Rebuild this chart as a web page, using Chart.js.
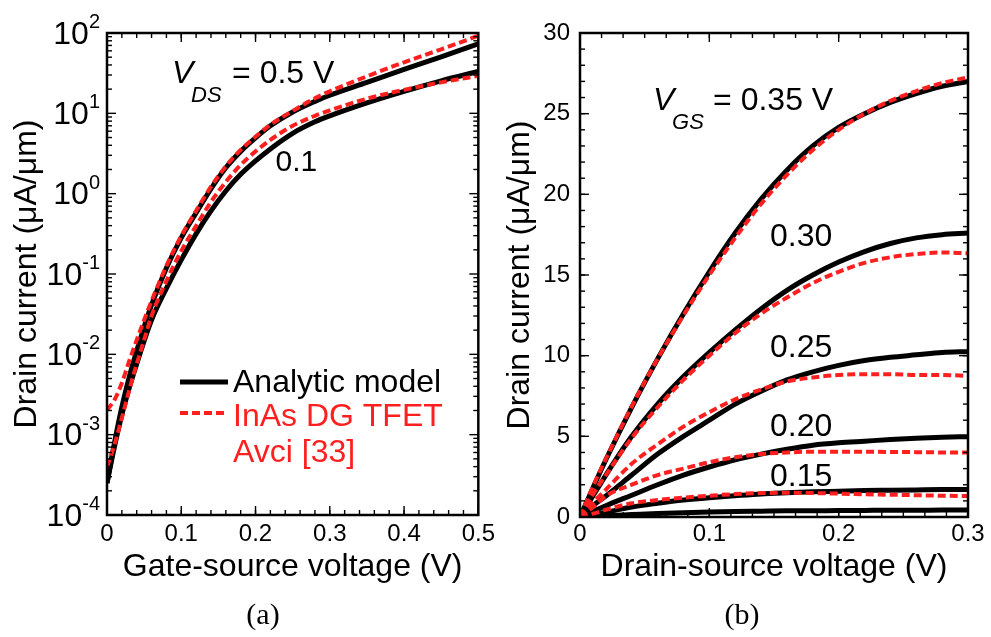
<!DOCTYPE html>
<html>
<head>
<meta charset="utf-8">
<script src="https://cdn.jsdelivr.net/npm/chart.js@4.4.1/dist/chart.umd.min.js"></script>
<style>
  html, body { margin: 0; padding: 0; background: #fff; }
  #wrap { position: relative; width: 991px; height: 637px; overflow: hidden; }
  #boxA { position: absolute; left: 0; top: 0; width: 500px; height: 637px; }
  #boxB { position: absolute; left: 500px; top: 0; width: 491px; height: 637px; }
  .cap { position: absolute; font-family: "Liberation Serif", "Times New Roman", serif; font-size: 30px; color: #000; transform: translateX(-50%); }
</style>
</head>
<body>
<div id="wrap">
  <div id="boxA"><canvas id="chartA"></canvas></div>
  <div id="boxB"><canvas id="chartB"></canvas></div>
  <div class="cap" style="left:263px; top:597px;">(a)</div>
  <div class="cap" style="left:742px; top:597px;">(b)</div>
</div>
<script>
/* --------------- Data (a): transfer curves, log scale --------------------- */
const vgsA = [0, 0.01, 0.02, 0.03, 0.04, 0.05, 0.06, 0.08, 0.10, 0.12, 0.14, 0.16, 0.18, 0.20, 0.22, 0.25, 0.28, 0.30, 0.35, 0.40, 0.45, 0.50];
const modelVds05 = [2.5e-4, 7.9e-4, 2.21e-3, 5.23e-3, 0.011, 0.0219, 0.0412, 0.119, 0.282, 0.577, 1.15, 2.1, 3.36, 4.95, 6.99, 10.4, 14.1, 16.8, 24.3, 35.3, 50.5, 73.4];
const modelVds01 = [2.5e-4, 7.03e-4, 1.76e-3, 3.82e-3, 7.59e-3, 0.0147, 0.0268, 0.0662, 0.15, 0.316, 0.611, 1.08, 1.74, 2.56, 3.61, 5.64, 7.84, 9.31, 13.5, 18.8, 25.4, 33.2];
const tfetVds05 = [2.03e-3, 2.7e-3, 4.4e-3, 8.28e-3, 0.0151, 0.0268, 0.0462, 0.126, 0.298, 0.611, 1.22, 2.19, 3.51, 5.1, 7.19, 10.7, 15.4, 18.8, 28.9, 43.2, 62.7, 92.3];
const tfetVds01 = [3.96e-4, 7.44e-4, 1.61e-3, 3.6e-3, 7.59e-3, 0.0151, 0.0301, 0.082, 0.194, 0.397, 0.791, 1.4, 2.28, 3.36, 4.68, 6.99, 9.31, 10.9, 15.2, 19.6, 24.3, 29.3];

/* --------------- Data (b): output curves --------------------- */
const vdsB = [0, 0.01, 0.02, 0.04, 0.06, 0.08, 0.10, 0.12, 0.14, 0.16, 0.18, 0.20, 0.22, 0.24, 0.26, 0.28, 0.30];
const model035 = [0, 1.8, 3.55, 6.8, 9.8, 12.6, 15.2, 17.6, 19.7, 21.5, 23.0, 24.15, 25.0, 25.7, 26.25, 26.7, 27.0];
const model030 = [0, 1.3, 2.6, 5.0, 7.0, 8.7, 10.2, 11.6, 12.9, 14.05, 15.0, 15.8, 16.45, 16.95, 17.3, 17.5, 17.6];
const model025 = [0, 0.7, 1.3, 2.6, 3.9, 5.0, 6.0, 7.0, 7.8, 8.5, 9.0, 9.4, 9.7, 9.9, 10.05, 10.2, 10.25];
const model020 = [0, 0.35, 0.7, 1.35, 2.0, 2.6, 3.1, 3.55, 3.9, 4.2, 4.45, 4.6, 4.7, 4.8, 4.88, 4.94, 4.98];
const model015 = [0, 0.15, 0.3, 0.62, 0.85, 1.05, 1.2, 1.32, 1.43, 1.5, 1.56, 1.6, 1.64, 1.66, 1.68, 1.7, 1.71];
const model010 = [0, 0.04, 0.08, 0.15, 0.22, 0.27, 0.31, 0.34, 0.36, 0.38, 0.39, 0.4, 0.41, 0.42, 0.42, 0.43, 0.43];
const tfet035 = [0, 1.9, 3.6, 6.85, 9.8, 12.5, 15.0, 17.3, 19.4, 21.2, 22.75, 24.0, 25.0, 25.8, 26.4, 26.9, 27.25];
const tfet030 = [0, 1.4, 2.6, 4.9, 6.8, 8.5, 10.0, 11.4, 12.6, 13.6, 14.5, 15.2, 15.75, 16.1, 16.3, 16.4, 16.35];
const tfet025 = [0, 0.9, 1.7, 3.3, 4.5, 5.6, 6.5, 7.3, 7.9, 8.4, 8.65, 8.8, 8.85, 8.85, 8.8, 8.8, 8.75];
const tfet020 = [0, 0.6, 1.3, 2.0, 2.6, 3.0, 3.4, 3.7, 3.9, 4.0, 4.05, 4.05, 4.05, 4.03, 4.02, 4.0, 3.99];
const tfet015 = [0, 0.2, 0.45, 0.85, 1.05, 1.2, 1.32, 1.42, 1.48, 1.5, 1.48, 1.45, 1.41, 1.38, 1.35, 1.32, 1.3];

const FONT = '"Liberation Sans", Arial, Helvetica, sans-serif';
const RED = "#ff1f1f";

const pts = (xs, ys) => xs.map((v, i) => ({ x: v, y: ys[i] }));
const model = (xs, ys) => ({ data: pts(xs, ys), borderColor: "#000", borderWidth: 5, pointRadius: 0, cubicInterpolationMode: "monotone", order: 1 });
const tfet = (xs, ys) => ({ data: pts(xs, ys), borderColor: RED, borderWidth: 4, borderDash: [8, 4], pointRadius: 0, cubicInterpolationMode: "monotone", order: 0 });

/* --------------- Frame with inward ticks on all sides --------------------- */
const framePlugin = {
  id: "frame",
  afterDatasetsDraw(chart, args, opts) {
    const { ctx, chartArea: a, scales: { x, y } } = chart;
    ctx.save();
    ctx.strokeStyle = "#000";
    ctx.lineWidth = 1.4;
    const seg = (x1, y1, x2, y2) => { ctx.beginPath(); ctx.moveTo(x1, y1); ctx.lineTo(x2, y2); ctx.stroke(); };
    const xt = (v, len) => { const p = x.getPixelForValue(v); seg(p, a.bottom, p, a.bottom - len); seg(p, a.top, p, a.top + len); };
    const yt = (v, len) => { const p = y.getPixelForValue(v); seg(a.left, p, a.left + len, p); seg(a.right, p, a.right - len, p); };
    opts.xMinor.forEach(v => xt(v, 5));
    opts.xMajor.forEach(v => xt(v, 9));
    opts.yMinor.forEach(v => yt(v, 5));
    opts.yMajor.forEach(v => yt(v, 9));
    ctx.lineWidth = 2.5;
    ctx.strokeRect(a.left, a.top, a.right - a.left, a.bottom - a.top);
    ctx.restore();
  },
};

/* --------------- Text labels (annotations, legend, log tick labels) --------------------- */
const textPlugin = {
  id: "texts",
  afterDraw(chart, args, opts) {
    const { ctx, chartArea: a, scales: { x, y } } = chart;
    ctx.save();
    ctx.fillStyle = "#000";
    // V_xx = ... label
    if (opts.vlabel) {
      const L = opts.vlabel;
      const px = x.getPixelForValue(L.x), py = y.getPixelForValue(L.y);
      ctx.textBaseline = "alphabetic";
      ctx.textAlign = "left";
      ctx.font = "italic 32px " + FONT;
      ctx.fillText("V", px, py);
      ctx.font = "italic 22px " + FONT;
      ctx.fillText(L.sub, px + 19, py + 19);
      ctx.font = "32px " + FONT;
      ctx.fillText(L.rest, px + 60, py);
    }
    // curve labels
    (opts.curveLabels || []).forEach(c => {
      ctx.font = c.size + "px " + FONT;
      ctx.textAlign = "center";
      ctx.textBaseline = "middle";
      ctx.fillText(c.text, x.getPixelForValue(c.x), y.getPixelForValue(c.y));
    });
    // legend
    if (opts.legend) {
      const lx = a.left + 73, ly = a.top + 349;
      ctx.lineWidth = 5;
      ctx.strokeStyle = "#000";
      ctx.beginPath(); ctx.moveTo(lx, ly); ctx.lineTo(lx + 48, ly); ctx.stroke();
      ctx.lineWidth = 4;
      ctx.strokeStyle = RED;
      ctx.setLineDash([8, 4]);
      ctx.beginPath(); ctx.moveTo(lx, ly + 31); ctx.lineTo(lx + 48, ly + 31); ctx.stroke();
      ctx.setLineDash([]);
      ctx.font = "32px " + FONT;
      ctx.textAlign = "left";
      ctx.textBaseline = "middle";
      ctx.fillStyle = "#000";
      ctx.fillText("Analytic model", lx + 53, ly + 1);
      ctx.fillStyle = RED;
      ctx.fillText("InAs DG TFET", lx + 53, ly + 35);
      ctx.fillText("Avci [33]", lx + 53, ly + 71);
      ctx.fillStyle = "#000";
    }
    // log decade labels 10^n
    if (opts.decades) {
      opts.decades.forEach(e => {
        const py = y.getPixelForValue(Math.pow(10, e));
        const exp = String(e);
        ctx.font = "20px " + FONT;
        const we = ctx.measureText(exp).width;
        ctx.font = "32px " + FONT;
        const wb = ctx.measureText("10").width;
        const right = a.left - 7;
        ctx.textAlign = "left";
        ctx.textBaseline = "middle";
        ctx.fillText("10", right - we - wb, py + 2);
        ctx.font = "20px " + FONT;
        ctx.textBaseline = "alphabetic";
        ctx.fillText(exp, right - we, py - 5);
      });
    }
    ctx.restore();
  },
};

const range = (n, f) => Array.from({ length: n }, (_, i) => f(i));
const axisFont = { family: FONT, size: 24 };
const titleFont = { family: FONT, size: 32 };

/* --------------- Chart (a) --------------------- */
new Chart(document.getElementById("chartA"), {
  type: "line",
  data: {
    datasets: [
      tfet(vgsA, tfetVds05),
      tfet(vgsA, tfetVds01),
      model(vgsA, modelVds05),
      model(vgsA, modelVds01),
    ],
  },
  options: {
    responsive: true,
    maintainAspectRatio: false,
    animation: false,
    layout: { padding: { left: 0, right: 5, top: 33, bottom: 0 } },
    scales: {
      x: {
        type: "linear", min: 0, max: 0.5,
        grid: { display: false, drawTicks: false }, border: { display: false },
        ticks: { stepSize: 0.1, padding: 5, color: "#000", font: axisFont, maxRotation: 0,
          callback: v => (v === 0 ? "0" : v.toFixed(1)) },
        title: { display: true, text: "Gate-source voltage (V)", color: "#000", font: titleFont, padding: { top: 0, bottom: 51 } },
        afterFit(s) { s.height = 122; },
      },
      y: {
        type: "logarithmic", min: 1e-4, max: 100,
        grid: { display: false, drawTicks: false }, border: { display: false },
        ticks: { display: false },
        title: { display: true, text: "Drain current (μA/μm)", color: "#000", font: titleFont, padding: { top: 8, bottom: 0 } },
        afterFit(s) { s.width = 107; },
      },
    },
    plugins: {
      legend: { display: false },
      tooltip: { enabled: false },
      frame: {
        xMajor: range(6, i => i * 0.1),
        xMinor: range(26, i => i * 0.02),
        yMajor: range(7, i => Math.pow(10, i - 4)),
        yMinor: range(6 * 8, i => (2 + (i % 8)) * Math.pow(10, Math.floor(i / 8) - 4)),
      },
      texts: {
        vlabel: { x: 0.0876, y: 24, sub: "DS", rest: "= 0.5 V" },
        curveLabels: [{ text: "0.1", x: 0.255, y: 2.4, size: 30 }],
        legend: true,
        decades: [-4, -3, -2, -1, 0, 1, 2],
      },
    },
  },
  plugins: [framePlugin, textPlugin],
});

/* --------------- Chart (b) --------------------- */
new Chart(document.getElementById("chartB"), {
  type: "line",
  data: {
    datasets: [
      tfet(vdsB, tfet035),
      tfet(vdsB, tfet030),
      tfet(vdsB, tfet025),
      tfet(vdsB, tfet020),
      tfet(vdsB, tfet015),
      model(vdsB, model035),
      model(vdsB, model030),
      model(vdsB, model025),
      model(vdsB, model020),
      model(vdsB, model015),
      model(vdsB, model010),
    ],
  },
  options: {
    responsive: true,
    maintainAspectRatio: false,
    animation: false,
    layout: { padding: { left: 0, right: 23, top: 33, bottom: 0 } },
    scales: {
      x: {
        type: "linear", min: 0, max: 0.3,
        grid: { display: false, drawTicks: false }, border: { display: false },
        ticks: { stepSize: 0.1, padding: 3, color: "#000", font: axisFont, maxRotation: 0,
          callback: v => (v === 0 ? "0" : v.toFixed(1)) },
        title: { display: true, text: "Drain-source voltage (V)", color: "#000", font: titleFont, padding: { top: 0, bottom: 51 } },
        afterFit(s) { s.height = 120; },
      },
      y: {
        type: "linear", min: 0, max: 30,
        grid: { display: false, drawTicks: false }, border: { display: false },
        ticks: { stepSize: 5, padding: 10, color: "#000", font: axisFont },
        title: { display: true, text: "Drain current (μA/μm)", color: "#000", font: titleFont, padding: { top: 1, bottom: 0 } },
        afterFit(s) { s.width = 80; },
      },
    },
    plugins: {
      legend: { display: false },
      tooltip: { enabled: false },
      frame: {
        xMajor: range(4, i => i * 0.1),
        xMinor: range(19, i => i * 0.1 / 6),
        yMajor: range(7, i => i * 5),
        yMinor: range(31, i => i),
      },
      texts: {
        vlabel: { x: 0.0565, y: 25.2, sub: "GS", rest: "= 0.35 V" },
        curveLabels: [
          { text: "0.30", x: 0.171, y: 17.36, size: 32 },
          { text: "0.25", x: 0.171, y: 10.48, size: 32 },
          { text: "0.20", x: 0.171, y: 5.58, size: 32 },
          { text: "0.15", x: 0.171, y: 2.48, size: 32 },
        ],
      },
    },
  },
  plugins: [framePlugin, textPlugin],
});
</script>
</body>
</html>
